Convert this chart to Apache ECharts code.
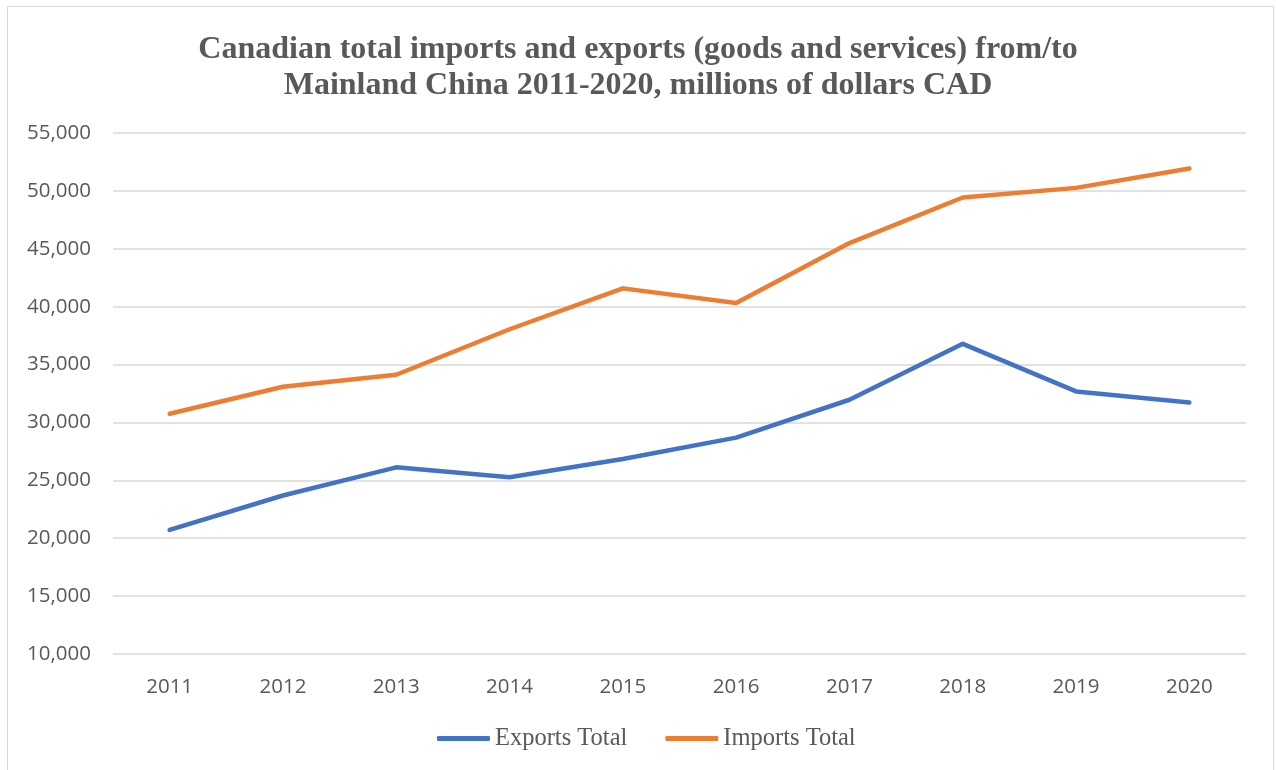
<!DOCTYPE html>
<html>
<head>
<meta charset="utf-8">
<script src="https://cdn.jsdelivr.net/npm/echarts@6/dist/echarts.min.js"></script>
<style>
  html, body { margin: 0; padding: 0; background: #fff; }
  #frame { position: absolute; left: 7px; top: 6px; width: 1267px; height: 770px; border: 1px solid #d9d9d9; box-sizing: border-box; }
  #chart { width: 1276px; height: 770px; position: absolute; left: 0; top: 0; }
</style>
</head>
<body>
<div id="frame"></div>
<div id="chart"></div>
<script>
// Years on the category axis
const years = ['2011', '2012', '2013', '2014', '2015', '2016', '2017', '2018', '2019', '2020'];
// Canada–China trade totals, millions of CAD
const exportsTotal = [20720, 23690, 26120, 25260, 26840, 28690, 31960, 36790, 32680, 31730];
const importsTotal = [30750, 33080, 34120, 38050, 41580, 40320, 45490, 49430, 50260, 51930];
// Value axis ticks
const yTicks = [10000, 15000, 20000, 25000, 30000, 35000, 40000, 45000, 50000, 55000];

const chart = echarts.init(document.getElementById('chart'), null, { renderer: 'canvas' });

chart.setOption({
  backgroundColor: 'transparent',
  animation: false,
  title: {
    text: 'Canadian total imports and exports (goods and services) from/to\nMainland China 2011-2020, millions of dollars CAD',
    left: 'center',
    top: 27,
    textStyle: {
      fontFamily: '"Liberation Serif", "Times New Roman", serif',
      fontWeight: 'bold',
      fontSize: 32,
      lineHeight: 36,
      color: '#595959'
    }
  },
  legend: {
    bottom: 14,
    left: 432,
    itemWidth: 53,
    itemHeight: 5,
    itemGap: 38,
    icon: 'roundRect',
    textStyle: {
      fontFamily: '"Liberation Serif", "Times New Roman", serif',
      fontSize: 24.5,
      color: '#595959'
    },
    data: ['Exports Total', 'Imports Total']
  },
  grid: {
    left: 113,
    right: 30,
    top: 133,
    bottom: 116,
    containLabel: false
  },
  xAxis: {
    type: 'category',
    data: years,
    boundaryGap: true,
    axisLine: { show: false },
    axisTick: { show: false },
    axisLabel: {
      margin: 23,
      fontFamily: '"Open Sans", "Noto Sans", sans-serif',
      fontSize: 20.5,
      color: '#595959'
    }
  },
  yAxis: {
    type: 'value',
    min: yTicks[0],
    max: yTicks[yTicks.length - 1],
    interval: 5000,
    axisLine: { show: false },
    axisTick: { show: false },
    splitLine: { lineStyle: { color: '#d9d9d9', width: 1.5 } },
    axisLabel: {
      margin: 22,
      fontFamily: '"Open Sans", "Noto Sans", sans-serif',
      fontSize: 20.5,
      color: '#595959',
      formatter: v => v.toLocaleString('en-US')
    }
  },
  series: [
    {
      name: 'Exports Total',
      type: 'line',
      data: exportsTotal,
      showSymbol: false,
      symbol: 'none',
      lineStyle: { color: '#4472C4', width: 4.5, cap: 'round', join: 'round' },
      itemStyle: { color: '#4472C4' }
    },
    {
      name: 'Imports Total',
      type: 'line',
      data: importsTotal,
      showSymbol: false,
      symbol: 'none',
      lineStyle: { color: '#ED7D31', width: 4.5, cap: 'round', join: 'round' },
      itemStyle: { color: '#ED7D31' }
    }
  ]
});
</script>
</body>
</html>
